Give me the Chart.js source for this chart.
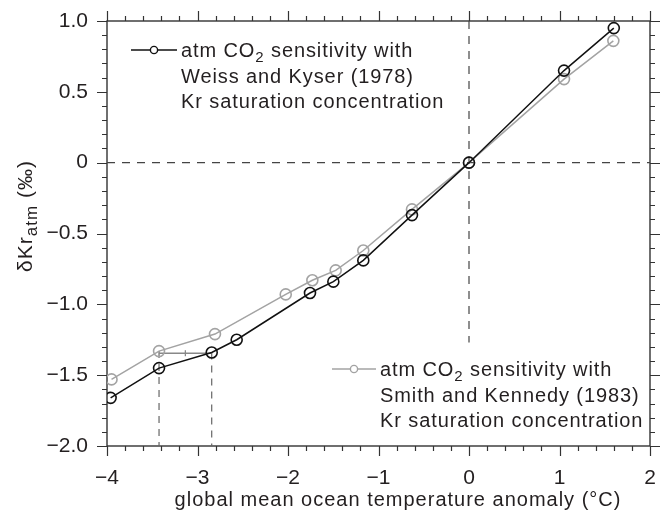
<!DOCTYPE html>
<html>
<head>
<meta charset="utf-8">
<script src="https://cdn.jsdelivr.net/npm/chart.js@4.4.1/dist/chart.umd.min.js"></script>
<style>
  html, body { margin: 0; padding: 0; background: #fff; }
  canvas { display: block; }
</style>
</head>
<body>
<canvas id="c" width="671" height="517"></canvas>
<script>
// ---- data ----
const weissX = [-3.96, -3.425, -2.843, -2.567, -1.757, -1.499, -1.168, -0.63, 0, 1.05, 1.60];
const weissY = [-1.66, -1.45, -1.34, -1.25, -0.92, -0.84, -0.69, -0.37, 0, 0.65, 0.95];
const smithX = [-3.95, -3.425, -2.807, -2.025, -1.731, -1.473, -1.168, -0.63, 0, 1.05, 1.595];
const smithY = [-1.53, -1.33, -1.21, -0.93, -0.83, -0.76, -0.62, -0.33, 0, 0.59, 0.86];

const xTickValues = [-4, -3, -2, -1, 0, 1, 2];
const xTickLabels = ['\u22124', '\u22123', '\u22122', '\u22121', '0', '1', '2'];
const yTickValues = [-2, -1.5, -1, -0.5, 0, 0.5, 1];
const yTickLabels = ['\u22122.0', '\u22121.5', '\u22121.0', '\u22120.5', '0', '0.5', '1.0'];

// reference markers
const zeroLineX = [-4, 2];
const zeroVertY = [1, -1.27];
const guideX = [-3.425, -2.843];
const guideTopY = [-1.33, -1.34];
const bracketY = -1.345;

const legendWeiss = [['atm CO', '2', ' sensitivity with'], ['Weiss and Kyser (1978)'], ['Kr saturation concentration']];
const legendSmith = [['atm CO', '2', ' sensitivity with'], ['Smith and Kennedy (1983)'], ['Kr saturation concentration']];
const xTitle = 'global mean ocean temperature anomaly (\u00B0C)';
const yTitleParts = ['\u03B4Kr', 'atm', ' (\u2030)'];

const FONT = '"Liberation Sans", Arial, Helvetica, sans-serif';
const TXT = '#231f20';
const BLACK = '#111111';
const GRAY = '#a3a3a3';

const toPts = (xs, ys) => xs.map((v, i) => ({x: v, y: ys[i]}));

const datasets = [
  { label: 'Weiss and Kyser (1978)', data: toPts(weissX, weissY), borderColor: BLACK, borderWidth: 1.5,
    pointRadius: 5.5, pointBorderWidth: 1.6, pointBorderColor: BLACK, pointBackgroundColor: 'rgba(0,0,0,0)', order: 0 },
  { label: 'Smith and Kennedy (1983)', data: toPts(smithX, smithY), borderColor: GRAY, borderWidth: 1.5,
    pointRadius: 5.5, pointBorderWidth: 1.6, pointBorderColor: GRAY, pointBackgroundColor: 'rgba(0,0,0,0)', order: 1 },
  { label: 'zeroH', data: zeroLineX.map(v => ({x: v, y: 0})), borderColor: '#444', borderWidth: 1.2, borderDash: [8, 7],
    pointRadius: 0, order: 5 },
  { label: 'zeroV', data: zeroVertY.map(v => ({x: 0, y: v})), borderColor: '#444', borderWidth: 1.2, borderDash: [8, 7],
    pointRadius: 0, order: 5 },
  { label: 'guide1', data: [{x: guideX[0], y: guideTopY[0]}, {x: guideX[0], y: -2}], borderColor: '#666', borderWidth: 1.2,
    borderDash: [7, 6], pointRadius: 0, order: 5 },
  { label: 'guide2', data: [{x: guideX[1], y: guideTopY[1]}, {x: guideX[1], y: -2}], borderColor: '#666', borderWidth: 1.2,
    borderDash: [7, 6], pointRadius: 0, order: 5 },
  { label: 'bracket', data: guideX.map(v => ({x: v, y: bracketY})), borderColor: '#888', borderWidth: 1.5,
    pointRadius: 0, order: 4 },
  { label: 'bracketMid', data: [{x: (guideX[0] + guideX[1]) / 2, y: bracketY}], showLine: false, pointStyle: 'line',
    rotation: 90, pointRadius: 3, pointBorderWidth: 1.3, pointBorderColor: '#888', borderColor: '#888', order: 4 }
];

function drawFrame(chart) {
  const {ctx, chartArea: a, scales: {x, y}} = chart;
  ctx.save();
  ctx.strokeStyle = '#333';
  ctx.lineWidth = 1.4;
  ctx.strokeRect(a.left, a.top, a.right - a.left, a.bottom - a.top);
  ctx.lineWidth = 1.2;
  ctx.beginPath();
  for (let i = 0; i <= 30; i++) {
    const v = -4 + i * 0.2;
    const px = Math.round(x.getPixelForValue(v)) + 0.5;
    const L = (i % 5 === 0) ? 10 : 5;
    ctx.moveTo(px, a.bottom); ctx.lineTo(px, a.bottom + L);
    ctx.moveTo(px, a.top); ctx.lineTo(px, a.top - L);
  }
  for (let i = 0; i <= 30; i++) {
    const v = -2 + i * 0.1;
    const py = Math.round(y.getPixelForValue(v)) + 0.5;
    const L = (i % 5 === 0) ? 10 : 5;
    ctx.moveTo(a.left, py); ctx.lineTo(a.left - L, py);
    ctx.moveTo(a.right, py); ctx.lineTo(a.right + L, py);
  }
  ctx.stroke();
  ctx.restore();
}

function drawParts(ctx, parts, x0, y0, size, subSize) {
  let cx = x0;
  parts.forEach((p, i) => {
    const isSub = (i === 1 && parts.length === 3);
    ctx.font = (isSub ? subSize : size) + 'px ' + FONT;
    ctx.fillText(p, cx, y0 + (isSub ? size * 0.25 : 0));
    cx += ctx.measureText(p).width;
  });
}

function drawLegendBlock(chart, lines, color, lx0, lx1, ly, tx, lineGap) {
  const ctx = chart.ctx;
  ctx.save();
  ctx.strokeStyle = color;
  ctx.lineWidth = 1.4;
  ctx.beginPath(); ctx.moveTo(lx0, ly); ctx.lineTo(lx1, ly); ctx.stroke();
  ctx.fillStyle = '#fff';
  ctx.beginPath(); ctx.arc((lx0 + lx1) / 2, ly, 3.6, 0, Math.PI * 2); ctx.fill(); ctx.stroke();
  ctx.fillStyle = TXT;
  ctx.textBaseline = 'alphabetic';
  ctx.textAlign = 'left';
  ctx.letterSpacing = '0.9px';
  lines.forEach((parts, i) => drawParts(ctx, parts, tx, ly + 7 + i * lineGap, 20, 15));
  ctx.restore();
}

const annot = {
  id: 'annot',
  beforeDatasetsDraw(chart) { drawFrame(chart); },
  afterDraw(chart) {
    const ctx = chart.ctx;
    drawLegendBlock(chart, legendWeiss, BLACK, 131, 177, 50, 181, 25.5);
    drawLegendBlock(chart, legendSmith, GRAY, 332, 376, 369, 380, 25.5);
    // x title
    ctx.save();
    ctx.fillStyle = TXT;
    ctx.font = '20px ' + FONT;
    ctx.letterSpacing = '1px';
    ctx.textAlign = 'center';
    ctx.textBaseline = 'alphabetic';
    ctx.fillText(xTitle, 398, 506);
    ctx.restore();
    // y title
    ctx.save();
    ctx.fillStyle = TXT;
    ctx.textAlign = 'left';
    ctx.textBaseline = 'alphabetic';
    ctx.letterSpacing = '1px';
    ctx.font = '21px ' + FONT;
    const w0 = ctx.measureText(yTitleParts[0]).width + ctx.measureText(yTitleParts[2]).width;
    ctx.font = '17px ' + FONT;
    const w1 = ctx.measureText(yTitleParts[1]).width;
    const total = w0 + w1;
    ctx.translate(32, 216);
    ctx.rotate(-Math.PI / 2);
    drawParts(ctx, yTitleParts, -total / 2, 0, 21, 17);
    ctx.restore();
  }
};

new Chart(document.getElementById('c'), {
  type: 'line',
  data: { datasets },
  options: {
    responsive: false,
    animation: false,
    events: [],
    layout: { padding: { top: 21, right: 21, left: 0, bottom: 0 } },
    plugins: { legend: { display: false }, tooltip: { enabled: false } },
    scales: {
      x: {
        type: 'linear', min: -4, max: 2, position: 'bottom',
        afterFit: s => { s.height = 71; s.paddingLeft = 0; s.paddingRight = 0; },
        afterBuildTicks: s => { s.ticks = xTickValues.map(v => ({value: v})); },
        ticks: { callback: v => xTickLabels[xTickValues.indexOf(v)], font: { size: 21, family: FONT }, color: TXT,
                 padding: 20, maxRotation: 0, autoSkip: false },
        grid: { drawOnChartArea: false, drawTicks: false, display: false },
        border: { display: false }
      },
      y: {
        type: 'linear', min: -2, max: 1, position: 'left',
        afterFit: s => { s.width = 107; s.paddingTop = 0; s.paddingBottom = 0; },
        afterBuildTicks: s => { s.ticks = yTickValues.map(v => ({value: v})); },
        ticks: { callback: v => yTickLabels[yTickValues.indexOf(v)], font: { size: 21, family: FONT }, color: TXT,
                 padding: 19, autoSkip: false },
        grid: { drawOnChartArea: false, drawTicks: false, display: false },
        border: { display: false }
      }
    }
  },
  plugins: [annot]
});
</script>
</body>
</html>
